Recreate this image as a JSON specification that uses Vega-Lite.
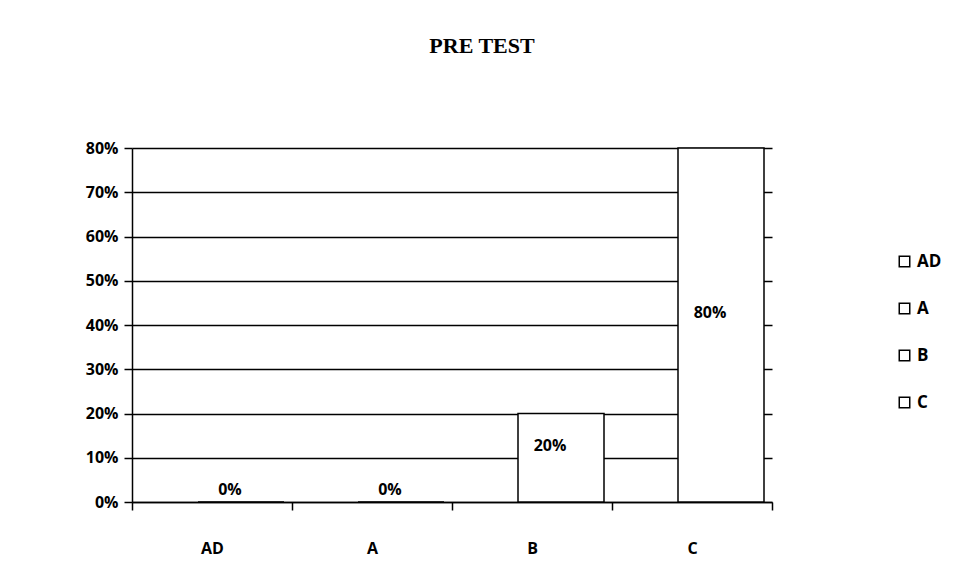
{
  "$schema": "https://vega.github.io/schema/vega-lite/v6.json",
  "width": 640,
  "height": 354,
  "autosize": {"type": "none"},
  "padding": {"left": 132, "top": 148, "right": 196, "bottom": 82},
  "background": "white",
  "title": {
    "text": "PRE TEST",
    "font": "Liberation Serif",
    "fontSize": 22,
    "fontWeight": "bold",
    "color": "black",
    "anchor": "middle",
    "frame": "group",
    "dx": 30,
    "offset": 82
  },
  "data": {
    "values": [
      {"category": "AD", "value": 0},
      {"category": "A", "value": 0},
      {"category": "B", "value": 0.2},
      {"category": "C", "value": 0.8}
    ]
  },
  "config": {
    "view": {"stroke": null},
    "axis": {
      "labelFont": "Open Sans",
      "labelFontWeight": "bold",
      "labelFontSize": 16,
      "labelColor": "black",
      "domainColor": "black",
      "domainWidth": 1.5,
      "tickColor": "black",
      "tickWidth": 1.5,
      "tickSize": 8
    },
    "legend": {
      "labelFont": "Open Sans",
      "labelFontWeight": "bold",
      "labelFontSize": 17,
      "labelColor": "black"
    }
  },
  "layer": [
    {
      "mark": {"type": "bar", "stroke": "black", "strokeWidth": 1.5, "width": 86, "xOffset": 29},
      "encoding": {
        "x": {
          "field": "category",
          "type": "nominal",
          "sort": ["AD", "A", "B", "C"],
          "scale": {"paddingInner": 0, "paddingOuter": 0},
          "axis": {
            "title": null,
            "labelAngle": 0,
            "labelPadding": 30,
            "tickBand": "extent",
            "grid": false
          }
        },
        "y": {
          "field": "value",
          "type": "quantitative",
          "scale": {"domain": [0, 0.8], "nice": false},
          "axis": {
            "title": null,
            "format": ".0%",
            "values": [0, 0.1, 0.2, 0.3, 0.4, 0.5, 0.6, 0.7, 0.8],
            "grid": true,
            "gridColor": "black",
            "gridWidth": 1.5,
            "gridOpacity": 1,
            "labelPadding": 6
          }
        },
        "fill": {
          "field": "category",
          "type": "nominal",
          "sort": ["AD", "A", "B", "C"],
          "scale": {"range": ["white", "white", "white", "white"]},
          "legend": {
            "title": null,
            "orient": "none",
            "legendX": 764,
            "legendY": 105,
            "symbolType": "square",
            "symbolSize": 110,
            "symbolStrokeColor": "black",
            "symbolStrokeWidth": 1.5,
            "rowPadding": 29,
            "labelOffset": 4
          }
        }
      }
    },
    {
      "transform": [{"calculate": "datum.value / 2", "as": "mid"}],
      "mark": {"type": "text", "font": "Open Sans", "fontWeight": "bold", "fontSize": 16, "color": "black", "dx": 18, "dy": -12},
      "encoding": {
        "x": {"field": "category", "type": "nominal", "sort": ["AD", "A", "B", "C"]},
        "y": {"field": "mid", "type": "quantitative"},
        "text": {"field": "value", "type": "quantitative", "format": ".0%"}
      }
    }
  ]
}
